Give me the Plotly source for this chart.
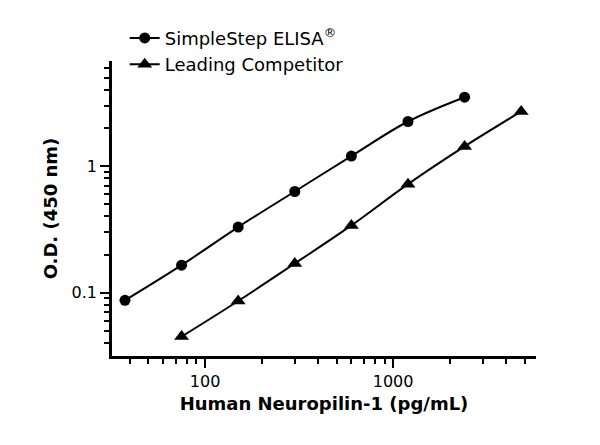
import plotly.graph_objects as go

# concentrations (pg/mL) and O.D. readings
simplestep_x = [37.5, 75, 150, 300, 600, 1200, 2400]
simplestep_y = [0.087, 0.165, 0.33, 0.63, 1.2, 2.25, 3.5]
competitor_x = [75, 150, 300, 600, 1200, 2400, 4800]
competitor_y = [0.045, 0.086, 0.17, 0.34, 0.72, 1.43, 2.7]

fig = go.Figure()
fig.add_trace(go.Scatter(
    name='SimpleStep ELISA<sup>®</sup>', x=simplestep_x, y=simplestep_y,
    mode='lines+markers', line=dict(color='black', width=2, shape='spline'),
    marker=dict(symbol='circle', size=11, color='black')
))
fig.add_trace(go.Scatter(
    name='Leading Competitor', x=competitor_x, y=competitor_y,
    mode='lines+markers', line=dict(color='black', width=2, shape='spline'),
    marker=dict(symbol='triangle-up', size=13, color='black')
))

fig.update_layout(
    width=600, height=445,
    plot_bgcolor='#ffffff', paper_bgcolor='#ffffff',
    margin=dict(l=104, r=72, t=45, b=97),
    font=dict(family='DejaVu Sans', color='black', size=16),
    legend=dict(x=0.03, y=1.14, xanchor='left', yanchor='top',
                font=dict(size=18), bgcolor='rgba(0,0,0,0)', tracegroupgap=0),
    showlegend=True
)
fig.update_xaxes(
    type='log', range=[1.505, 3.76],
    tickvals=[100, 1000], ticktext=['100', '1000'],
    minor=dict(tickvals=[40, 50, 60, 70, 80, 90, 200, 300, 400, 500, 600, 700, 800, 900,
                         2000, 3000, 4000, 5000],
               ticks='outside', ticklen=5, tickcolor='black', tickwidth=2),
    ticks='outside', ticklen=9, tickwidth=2, tickcolor='black',
    showline=True, linecolor='black', linewidth=2.5, showgrid=False, zeroline=False,
    title=dict(text='<b>Human Neuropilin-1 (pg/mL)</b>', font=dict(size=18), standoff=8),
    tickfont=dict(size=16)
)
fig.update_yaxes(
    type='log', range=[-1.5, 0.83],
    tickvals=[0.1, 1], ticktext=['0.1', '1'],
    minor=dict(tickvals=[0.04, 0.05, 0.06, 0.07, 0.08, 0.09, 0.2, 0.3, 0.4, 0.5, 0.6,
                         0.7, 0.8, 0.9, 2, 3, 4, 5, 6],
               ticks='outside', ticklen=5, tickcolor='black', tickwidth=2),
    ticks='outside', ticklen=9, tickwidth=2, tickcolor='black',
    showline=True, linecolor='black', linewidth=2.5, showgrid=False, zeroline=False,
    title=dict(text='<b>O.D. (450 nm)</b>', font=dict(size=18), standoff=10),
    tickfont=dict(size=16)
)

fig.write_html('out.html')
